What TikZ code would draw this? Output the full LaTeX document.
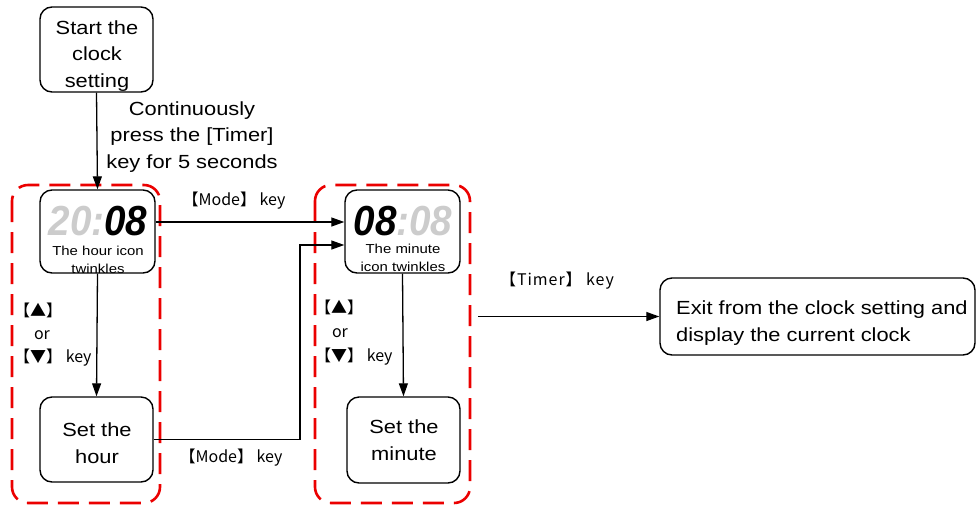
\documentclass[tikz,border=0pt]{standalone}
\usepackage{fontspec}
\setmainfont[FakeStretch=1.15]{Liberation Sans}
\newfontfamily\cjk{Noto Sans CJK SC}
\newfontfamily\digitfont[FakeStretch=0.92]{Liberation Sans}
\usetikzlibrary{arrows.meta}
\definecolor{segoff}{gray}{0.80}
\definecolor{framered}{RGB}{235,0,0}
\begin{document}
\begin{tikzpicture}[x=1pt,y=-1pt,
  box/.style={draw, line width=1.4pt, rounded corners=12pt, inner sep=0pt},
  dbox/.style={draw, line width=1.4pt, rounded corners=12pt, inner sep=0pt,
    minimum width=115pt, minimum height=83pt},
  small/.style={align=center, inner sep=0pt, font=\fontsize{13}{18}\selectfont},
  digits/.style={inner sep=0pt, text height=30pt, text depth=0pt,
    font=\digitfont\bfseries\itshape\fontsize{42}{42}\selectfont},
  body/.style={align=center, inner sep=0pt, font=\fontsize{19}{26.5}\selectfont},
  lbl/.style={inner sep=0pt, font=\cjk\fontsize{16}{16}\selectfont},
  arr/.style={-{Triangle[length=13pt,width=9pt]}, line width=1.3pt},
  groupframe/.style={draw=framered, line width=2.6pt, dash pattern=on 21pt off 10pt, rounded corners=16pt}
]
\useasboundingbox (0,0) rectangle (977,507);

% group frames
\draw[groupframe] (12,185) rectangle (160,503);
\draw[groupframe] (315,185) rectangle (470,503);

% boxes
\node[box, minimum width=113pt, minimum height=85pt] (start) at (96.5,49.5) {};
\node[body] (starttxt) at (97,56) {Start the\\clock\\setting};

\node[dbox] (hdisp) at (97.5,231.5) {};
\node[digits] (hdig) at (98,220.5) {\textcolor{segoff}{20:}08};
\node[small] (htxt) at (98,260) {The hour icon\\twinkles};

\node[dbox] (mdisp) at (402.5,231.5) {};
\node[digits] (mdig) at (403,220.5) {08\textcolor{segoff}{:08}};
\node[small] (mtxt) at (403,258) {The minute\\icon twinkles};

\node[box, minimum width=113pt, minimum height=85pt] (sethour) at (96.5,439.5) {};
\node[body] (sethourtxt) at (97,443) {Set the\\hour};
\node[box, minimum width=113pt, minimum height=86pt] (setmin) at (403.5,440) {};
\node[body] (setmintxt) at (404,440) {Set the\\minute};

\node[box, minimum width=315pt, minimum height=77pt] (exit) at (817.5,316.5) {};
\node[body, align=left, anchor=west] (exittxt) at (676,323) {Exit from the clock setting and\\display the current clock};

% connectors
\draw[arr] (start.south) -- (hdisp.north);
\node[body] (contlbl) at (192,137) {Continuously\\press the [Timer]\\key for 5 seconds};

\draw[arr] (hdisp.south) -- (sethour.north);
\draw[arr] (mdisp.south) -- (setmin.north);

\draw[arr] (hdisp.east |- 0,222) -- (mdisp.west |- 0,222);
\node[lbl] (mode1) at (234,201) {【Mode】 key};

\coordinate (elb) at (300,245);
\draw[arr] (sethour.east) -| (elb) -- (mdisp.west |- elb);
\node[lbl] (mode2) at (231,458) {【Mode】 key};

\coordinate (tstart) at (478,316.5);
\draw[arr] (tstart) -- (exit.west);
\node[lbl] (timerlbl) at (557,281) {\addfontfeature{LetterSpace=6}【Timer】 key};

% key labels
\node[lbl, anchor=west] (up1) at (14,310) {【▲】};
\node[lbl] (or1) at (42,335) {or};
\node[lbl, anchor=west] (down1) at (14,358) {【▼】 key};

\node[lbl, anchor=west] (up2) at (315,307) {【▲】};
\node[lbl] (or2) at (340,333) {or};
\node[lbl, anchor=west] (down2) at (315,357) {【▼】 key};
\end{tikzpicture}
\end{document}
